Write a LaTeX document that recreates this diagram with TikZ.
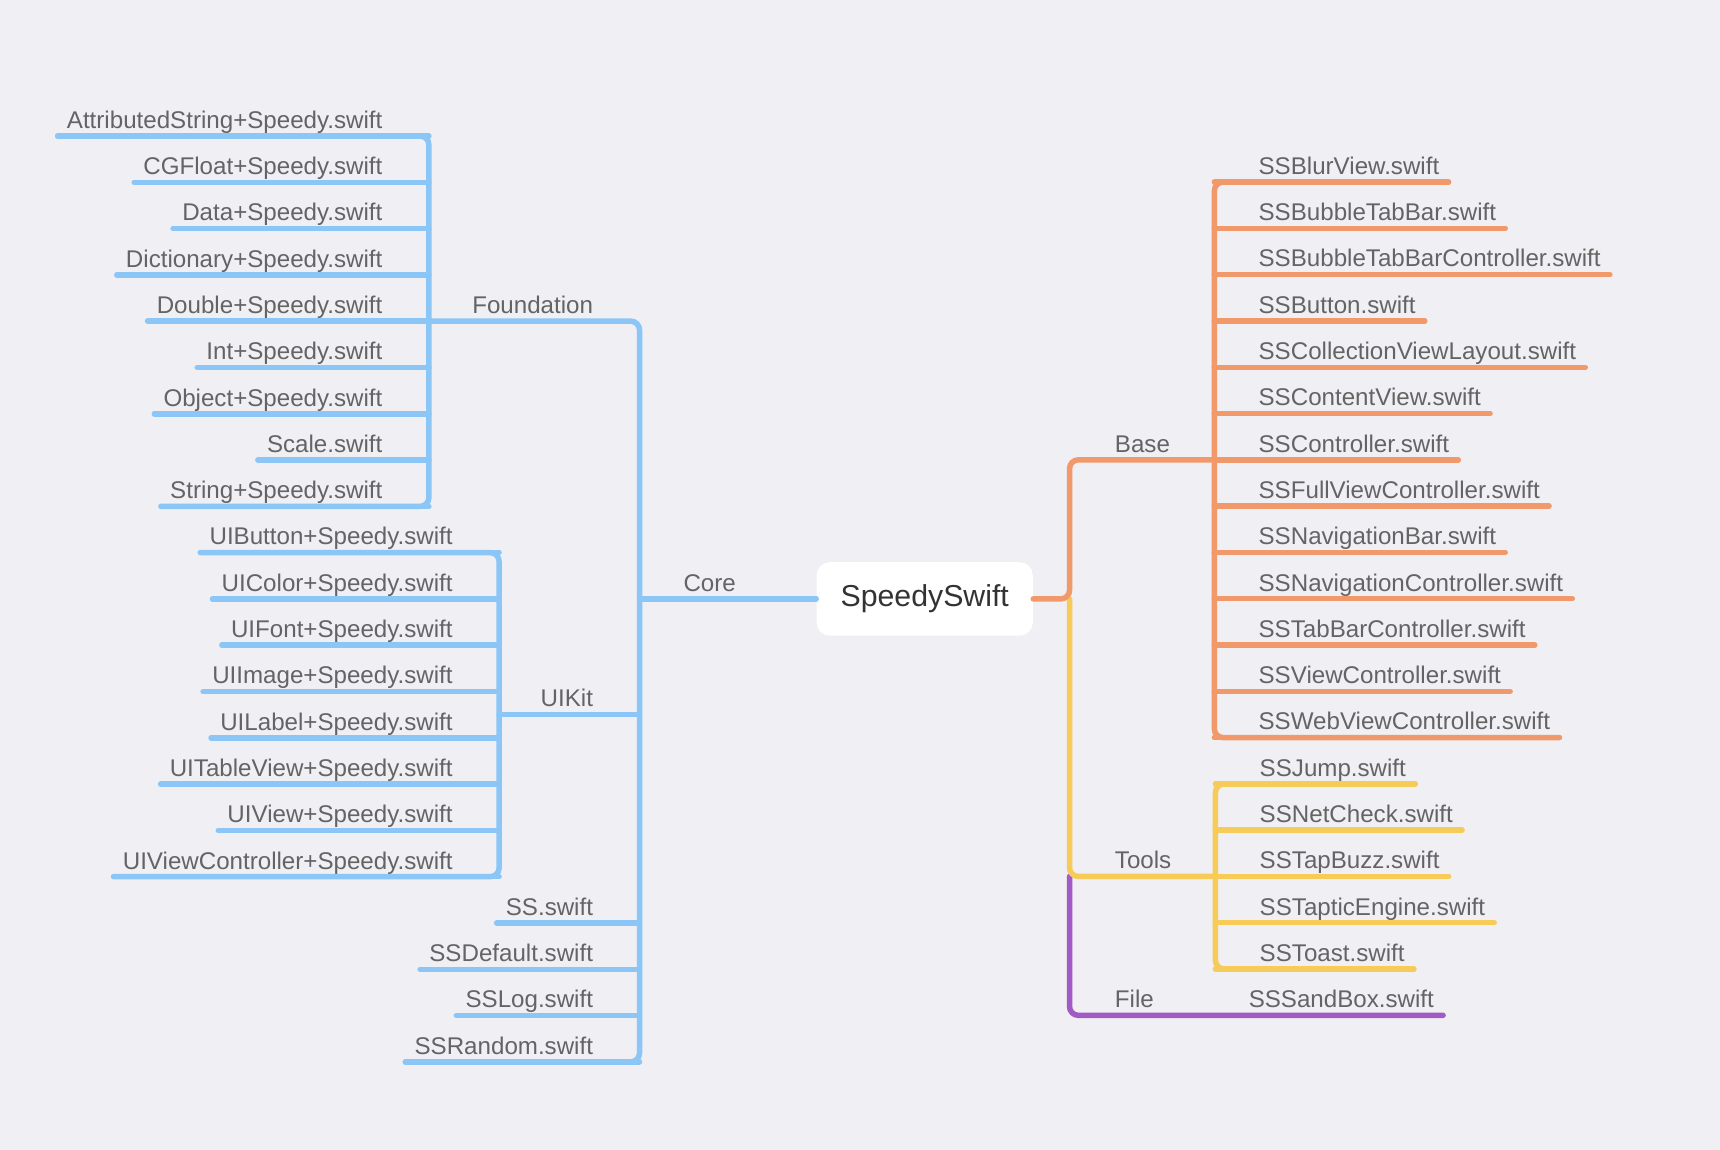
\documentclass[tikz,border=0pt]{standalone}
\usepackage{fontspec}
\setmainfont{Liberation Sans}
\usetikzlibrary{positioning}
\definecolor{bg}{HTML}{EFEFF4}
\definecolor{coreblue}{HTML}{8BC6F6}
\definecolor{baseorange}{HTML}{F1996A}
\definecolor{toolyellow}{HTML}{F6CB57}
\definecolor{filepurple}{HTML}{A25BC4}
\definecolor{labelgray}{HTML}{646464}
\tikzset{
  leaf/.style={inner xsep=4pt, inner ysep=0pt, font=\fontsize{11}{13}\selectfont, text=labelgray},
  leafl/.style={leaf, anchor=base east},
  leafr/.style={leaf, anchor=base west},
  branch/.style={line width=2.5pt, line cap=round, rounded corners=4pt},
  root/.style={fill=white, rounded corners=6pt, minimum width=98.5pt, minimum height=33.5pt,
    font=\fontsize{13.8}{16}\selectfont, text=black!80}
}
\begin{document}
\begin{tikzpicture}[x=0.5pt, y=-0.5pt]
\fill[bg] (0,0) rectangle (1568,1048);
\useasboundingbox (0,0) rectangle (1568,1048);

\node[root] (root) at (843,546) {SpeedySwift};

% Core
\coordinate (corej) at (583,546);
\draw[branch, coreblue] (root.west) -- (corej);
\node[leaf, anchor=base] (core) at (647,539) {Core};

\foreach \name [count=\i from 0] in {AttributedString+Speedy.swift, CGFloat+Speedy.swift,
    Data+Speedy.swift, Dictionary+Speedy.swift, Double+Speedy.swift, Int+Speedy.swift,
    Object+Speedy.swift, Scale.swift, String+Speedy.swift} {
  \coordinate (fl\i) at (391, 124+42.2*\i);
  \node[leafl] (f\i) at ([shift={(-34,-7)}]fl\i) {\name};
  \draw[branch, coreblue] (fl\i -| f\i.west) -- (fl\i);
}
\draw[branch, coreblue] (f0.west |- fl0) -- (fl0) -- (fl8) -- (f8.west |- fl8);

\foreach \name [count=\i from 0] in {UIButton+Speedy.swift, UIColor+Speedy.swift,
    UIFont+Speedy.swift, UIImage+Speedy.swift, UILabel+Speedy.swift, UITableView+Speedy.swift,
    UIView+Speedy.swift, UIViewController+Speedy.swift} {
  \coordinate (ul\i) at (455, 503.8+42.2*\i);
  \node[leafl] (u\i) at ([shift={(-34,-7)}]ul\i) {\name};
  \draw[branch, coreblue] (ul\i -| u\i.west) -- (ul\i);
}
\draw[branch, coreblue] (u0.west |- ul0) -- (ul0) -- (ul7) -- (u7.west |- ul7);

\foreach \name [count=\i from 0] in {SS.swift, SSDefault.swift, SSLog.swift, SSRandom.swift} {
  \coordinate (cl\i) at (583, 841.4+42.2*\i);
  \node[leafl] (c\i) at ([shift={(-34,-7)}]cl\i) {\name};
  \draw[branch, coreblue] (cl\i -| c\i.west) -- (cl\i);
}

\coordinate (foundj) at (583,292.8);
\coordinate (uikitj) at (583,651.5);
\node[leafl] (foundation) at ([shift={(-34,-7)}]foundj) {Foundation};
\node[leafl] (uikit) at ([shift={(-34,-7)}]uikitj) {UIKit};
\draw[branch, coreblue] (fl4) -- (foundj) -- (cl3) -- (c3.west |- cl3);
\draw[branch, coreblue] (uikitj) -- (ul0 |- uikitj);

% Base, Tools, File
\coordinate (rightj) at (975,546);
\coordinate (basej) at (975,419.2);
\coordinate (toolsj) at (975,799);
\coordinate (filej) at (975,925.6);

\foreach \name [count=\i from 0] in {SSBlurView.swift, SSBubbleTabBar.swift,
    SSBubbleTabBarController.swift, SSButton.swift, SSCollectionViewLayout.swift,
    SSContentView.swift, SSController.swift, SSFullViewController.swift,
    SSNavigationBar.swift, SSNavigationController.swift, SSTabBarController.swift,
    SSViewController.swift, SSWebViewController.swift} {
  \coordinate (bl\i) at (1107, 166+42.2*\i);
  \node[leafr] (b\i) at ([shift={(32,-7)}]bl\i) {\name};
  \draw[branch, baseorange] (bl\i) -- (bl\i -| b\i.east);
}
\draw[branch, baseorange] (b0.east |- bl0) -- (bl0) -- (bl12) -- (b12.east |- bl12);

\foreach \name [count=\i from 0] in {SSJump.swift, SSNetCheck.swift, SSTapBuzz.swift,
    SSTapticEngine.swift, SSToast.swift} {
  \coordinate (tl\i) at (1108, 714.6+42.2*\i);
  \node[leafr] (t\i) at ([shift={(32,-7)}]tl\i) {\name};
  \draw[branch, toolyellow] (tl\i) -- (tl\i -| t\i.east);
}
\draw[branch, toolyellow] (t0.east |- tl0) -- (tl0) -- (tl4) -- (t4.east |- tl4);

\node[leafr] (base) at ([shift={(33,-7)}]basej) {Base};
\node[leafr] (tools) at ([shift={(33,-7)}]toolsj) {Tools};
\node[leafr] (file) at ([shift={(33,-7)}]filej) {File};
\node[leafr] (sandbox) at ([shift={(155,-7)}]filej) {SSSandBox.swift};

\draw[branch, filepurple] (toolsj) -- (filej) -- (filej -| sandbox.east);
\draw[branch, toolyellow] (rightj) -- (toolsj) -- (tl2);
\draw[branch, baseorange] (root.east) -- (rightj) -- (basej) -- (bl6);
\end{tikzpicture}
\end{document}
